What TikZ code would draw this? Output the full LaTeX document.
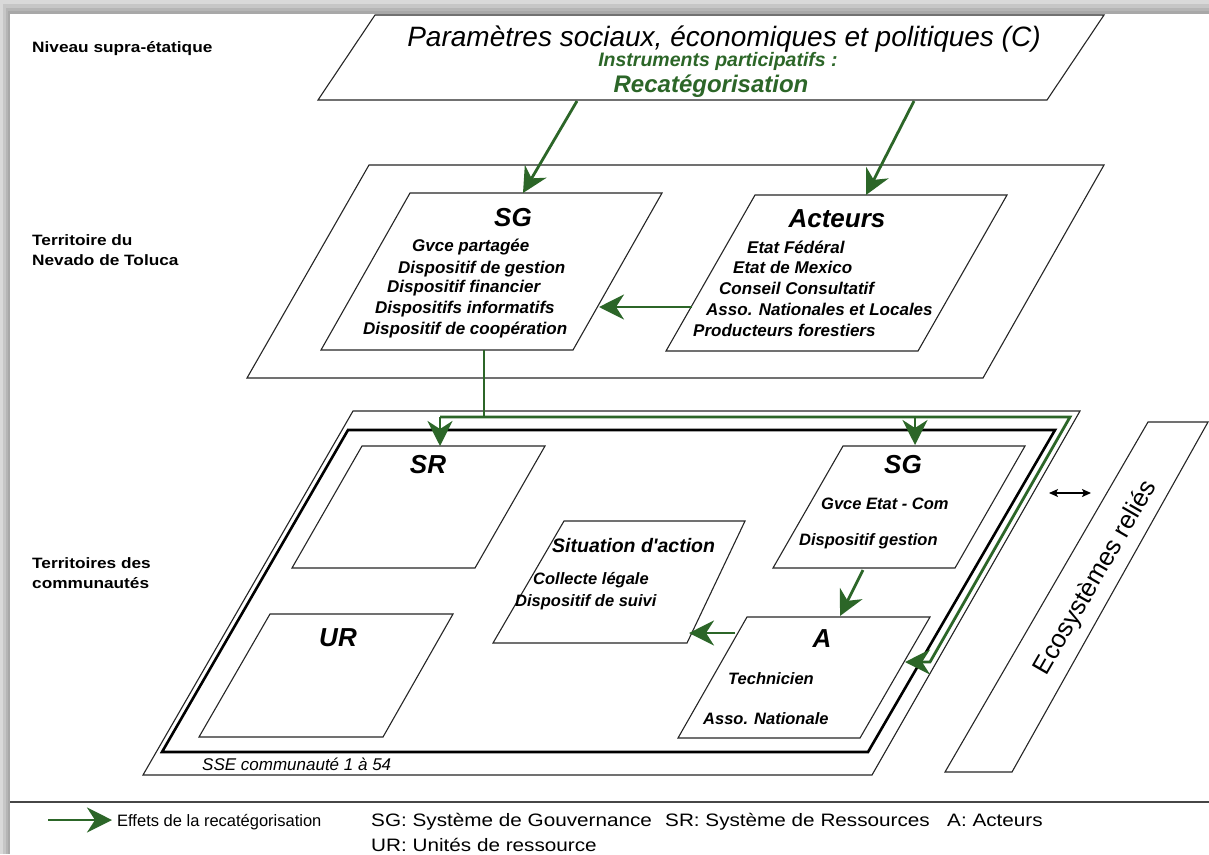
\documentclass[tikz,border=0pt]{standalone}
\usepackage{fontspec}
\setmainfont{Liberation Sans}
\newfontfamily\widefont[FakeStretch=1.15]{Liberation Sans}
\usetikzlibrary{arrows.meta}
\definecolor{ggreen}{RGB}{44,102,40}
\tikzset{
  thin frame/.style={draw=black!85, line width=1.1pt, line join=miter},
  thick frame/.style={draw=black, line width=2.6pt, line join=miter},
  gline/.style={draw=ggreen, line width=2.8pt, line join=miter},
  garrow/.style={draw=ggreen, line width=2.8pt, line join=miter,
     -{Stealth[length=25pt,width=25pt,inset=8pt]}},
  boxtitle/.style={font=\fontsize{26}{30}\selectfont\bfseries\itshape, inner sep=0pt},
  boxline/.style={font=\fontsize{17}{20}\selectfont\bfseries\itshape, anchor=base west, inner sep=0pt},
  lowline/.style={font=\fontsize{16.5}{20}\selectfont\bfseries\itshape, anchor=base west, inner sep=0pt},
  levellabel/.style={font=\widefont\fontsize{15}{18}\selectfont\bfseries, anchor=base west, inner sep=0pt},
  legendtext/.style={font=\widefont\fontsize{18}{22}\selectfont, anchor=base west, inner sep=0pt},
}
\begin{document}
\begin{tikzpicture}[x=1pt,y=-1pt]
% background with shadow
\fill[gray!30] (0,0) rectangle (1209,854);
\fill[gray!45] (3,4) rectangle (1209,854);
\fill[gray!58] (6,8) rectangle (1209,854);
\fill[gray!68] (8,11) rectangle (1209,854);
\fill[white] (10,14) rectangle (1209,854);
\useasboundingbox (0,0) rectangle (1209,854);

% ---------- level labels ----------
\node[levellabel] (lab1) at (32,52) {Niveau supra-étatique};
\node[levellabel] (lab2a) at (32,245) {Territoire du};
\node[levellabel] (lab2b) at (32,265) {Nevado de Toluca};
\node[levellabel] (lab3a) at (32,568) {Territoires des};
\node[levellabel] (lab3b) at (32,588) {communautés};

% ---------- C parallelogram ----------
\coordinate (C1) at (375,15); \coordinate (C2) at (1104,15);
\coordinate (C3) at (1047,100); \coordinate (C4) at (318,100);
\draw[thin frame] (C1) -- (C2) -- (C3) -- (C4) -- cycle;
\node[font=\fontsize{28}{32}\selectfont\itshape, anchor=base, inner sep=0pt] (ctitle) at (724,46)
  {Paramètres sociaux, économiques et politiques (C)};
\node[font=\fontsize{19.5}{22}\selectfont\bfseries\itshape, text=ggreen, anchor=base, inner sep=0pt] (cinst) at (718,66)
  {Instruments participatifs :};
\node[font=\fontsize{24}{28}\selectfont\bfseries\itshape, text=ggreen, anchor=base, inner sep=0pt] (crecat) at (711,92)
  {Recatégorisation};

% ---------- territory parallelogram ----------
\coordinate (T1) at (369,165); \coordinate (T2) at (1104,165);
\coordinate (T3) at (983,378); \coordinate (T4) at (247,378);
\draw[thin frame] (T1) -- (T2) -- (T3) -- (T4) -- cycle;

% SG upper
\coordinate (S1) at (410,193); \coordinate (S2) at (662,193);
\coordinate (S3) at (573,350); \coordinate (S4) at (321,350);
\draw[thin frame] (S1) -- (S2) -- (S3) -- (S4) -- cycle;
\node[boxtitle] (sgu) at (513,218) {SG};
\node[boxline] (sgu1) at (412,251) {Gvce partagée};
\node[boxline] (sgu2) at (398,273) {Dispositif de gestion};
\node[boxline] (sgu3) at (387,292) {Dispositif financier};
\node[boxline] (sgu4) at (375,313) {Dispositifs informatifs};
\node[boxline] (sgu5) at (363,334) {Dispositif de coopération};

% Acteurs
\coordinate (A1) at (755,195); \coordinate (A2) at (1007,195);
\coordinate (A3) at (918,351); \coordinate (A4) at (666,351);
\draw[thin frame] (A1) -- (A2) -- (A3) -- (A4) -- cycle;
\node[boxtitle] (act) at (837,219) {Acteurs};
\node[boxline] (act1) at (747,253) {Etat Fédéral};
\node[boxline] (act2) at (733,273) {Etat de Mexico};
\node[boxline] (act3) at (719,294) {Conseil Consultatif};
\node[boxline] (act4) at (706,315) {Asso. Nationales et Locales};
\node[boxline] (act5) at (693,336) {Producteurs forestiers};

% arrows upper
\coordinate (cL) at (577,101); \coordinate (sgUtop) at (523,193);
\coordinate (cR) at (914,101); \coordinate (actTop) at (866,195);
\coordinate (actLeft) at (692,307); \coordinate (sgURight) at (599,307);
\draw[garrow] (cL) -- (sgUtop);
\draw[garrow] (cR) -- (actTop);
\draw[garrow] (actLeft) -- (sgURight);

% ---------- community level ----------
\coordinate (L1) at (353,411); \coordinate (L2) at (1080,411);
\coordinate (L3) at (872,775); \coordinate (L4) at (143,775);
\draw[thin frame] (L1) -- (L2) -- (L3) -- (L4) -- cycle;
\coordinate (K1) at (348,430); \coordinate (K2) at (1055,430);
\coordinate (K3) at (868,752); \coordinate (K4) at (162,752);
\draw[thick frame] (K1) -- (K2) -- (K3) -- (K4) -- cycle;
\node[font=\fontsize{17}{20}\selectfont\itshape, anchor=base west, inner sep=0pt] (sse) at (202,770) {SSE communauté 1 à 54};

% SR
\coordinate (R1) at (362,446); \coordinate (R2) at (545,446);
\coordinate (R3) at (475,568); \coordinate (R4) at (292,568);
\draw[thin frame] (R1) -- (R2) -- (R3) -- (R4) -- cycle;
\node[boxtitle] (sr) at (428,465) {SR};

% UR
\coordinate (U1) at (270,614); \coordinate (U2) at (453,614);
\coordinate (U3) at (383,737); \coordinate (U4) at (199,737);
\draw[thin frame] (U1) -- (U2) -- (U3) -- (U4) -- cycle;
\node[boxtitle] (ur) at (338,638) {UR};

% Situation d'action
\coordinate (X1) at (564,521); \coordinate (X2) at (745,521);
\coordinate (X3) at (687,643); \coordinate (X4) at (493,643);
\draw[thin frame] (X1) -- (X2) -- (X3) -- (X4) -- cycle;
\node[font=\fontsize{19.5}{22}\selectfont\bfseries\itshape, anchor=base west, inner sep=0pt] (sit) at (552,552) {Situation d\textquotesingle action};
\node[lowline] (sit1) at (533,584) {Collecte légale};
\node[lowline] (sit2) at (515,606) {Dispositif de suivi};

% SG lower
\coordinate (G1) at (843,446); \coordinate (G2) at (1025,446);
\coordinate (G3) at (955,568); \coordinate (G4) at (773,568);
\draw[thin frame] (G1) -- (G2) -- (G3) -- (G4) -- cycle;
\node[boxtitle] (sgl) at (903,465) {SG};
\node[lowline] (sgl1) at (821,509) {Gvce Etat - Com};
\node[lowline] (sgl2) at (799,545) {Dispositif gestion};

% A
\coordinate (P1) at (747,617); \coordinate (P2) at (930,617);
\coordinate (P3) at (860,738); \coordinate (P4) at (678,738);
\draw[thin frame] (P1) -- (P2) -- (P3) -- (P4) -- cycle;
\node[boxtitle] (aa) at (822,639) {A};
\node[lowline] (aa1) at (728,684) {Technicien};
\node[lowline] (aa2) at (703,724) {Asso. Nationale};

% green distribution
\coordinate (sgUbot) at (484,350); \coordinate (gJ) at (484,417);
\coordinate (gL) at (440,417); \coordinate (gM) at (915,417);
\coordinate (gR) at (1070,417); \coordinate (gB) at (930,662);
\coordinate (srTop) at (440,446); \coordinate (sglTop) at (915,445);
\coordinate (aRight) at (905,662);
\draw[gline] (sgUbot) -- (gJ);
\draw[garrow] (gL) -- (gR) -- (gB) -- (aRight);
\draw[garrow] (gL) -- (srTop);
\draw[garrow] (gM) -- (sglTop);
\coordinate (sglBot) at (863,570); \coordinate (aTop) at (840,616);
\draw[garrow] (sglBot) -- (aTop);
\coordinate (aLeft) at (735,633); \coordinate (sitRight) at (689,633);
\draw[garrow] (aLeft) -- (sitRight);

% Ecosystemes
\coordinate (E1) at (1148,422); \coordinate (E2) at (1208,422);
\coordinate (E3) at (1012,772); \coordinate (E4) at (945,772);
\draw[thin frame] (E1) -- (E2) -- (E3) -- (E4) -- cycle;
\node[font=\fontsize{25.5}{30}\selectfont, rotate=60, inner sep=0pt] (eco) at (1096,578) {Ecosystèmes reliés};
\coordinate (dA) at (1049,493); \coordinate (dB) at (1091,493);
\draw[line width=1.3pt, {Stealth[length=9pt,width=8pt,inset=2pt]}-{Stealth[length=9pt,width=8pt,inset=2pt]}] (dA) -- (dB);

% ---------- legend ----------
\coordinate (sepL) at (10,802); \coordinate (sepR) at (1209,802);
\draw[gray!55!black, line width=1.8pt] (sepL) -- (sepR);
\coordinate (legA) at (48,820); \coordinate (legB) at (112,820);
\draw[garrow] (legA) -- (legB);
\node[font=\fontsize{16.5}{20}\selectfont, anchor=base west, inner sep=0pt] (leg0) at (117,826) {Effets de la recatégorisation};
\node[legendtext] (leg1) at (371,826) {SG: Système de Gouvernance};
\node[legendtext] (leg2) at (665,826) {SR: Système de Ressources};
\node[legendtext] (leg3) at (947,826) {A: Acteurs};
\node[legendtext] (leg4) at (371,851) {UR: Unités de ressource};
\end{tikzpicture}
\end{document}
